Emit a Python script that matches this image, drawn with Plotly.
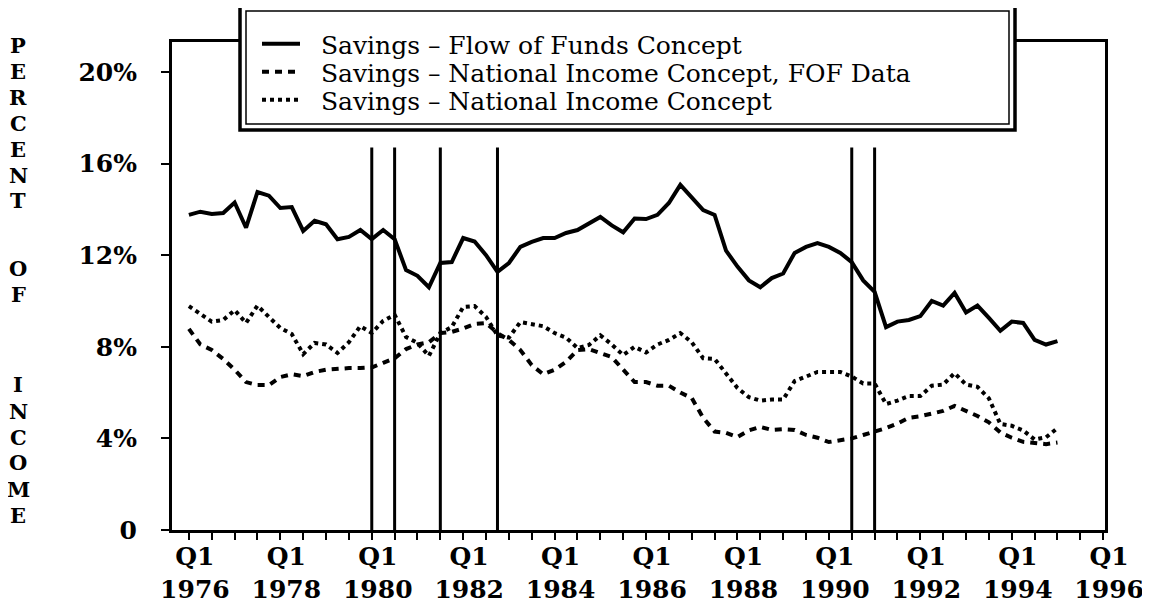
import plotly.graph_objects as go

# quarterly savings rates, % of income, 1976 Q1 .. 1995 Q1
flow_of_funds = [13.76, 13.9, 13.8, 13.84, 14.3, 13.2, 14.76, 14.6, 14.06, 14.1,
                 13.06, 13.5, 13.35, 12.7, 12.8, 13.1, 12.7, 13.1, 12.7, 11.35,
                 11.1, 10.6, 11.66, 11.7, 12.75, 12.6, 12.0, 11.27, 11.66, 12.36,
                 12.58, 12.75, 12.75, 12.97, 13.1, 13.4, 13.67, 13.3, 13.0, 13.6,
                 13.58, 13.76, 14.28, 15.07, 14.5, 13.97, 13.76, 12.2, 11.5, 10.9,
                 10.6, 11.0, 11.2, 12.1, 12.36, 12.53, 12.36, 12.1, 11.7, 10.9,
                 10.4, 8.86, 9.1, 9.17, 9.34, 10.0, 9.8, 10.35, 9.5, 9.8,
                 9.26, 8.7, 9.1, 9.04, 8.3, 8.1, 8.25]
ni_fof_data = [8.78, 8.1, 7.86, 7.47, 7.0, 6.46, 6.33, 6.33, 6.68, 6.8,
               6.72, 6.9, 7.0, 7.05, 7.07, 7.07, 7.1, 7.3, 7.5, 7.9,
               8.1, 8.2, 8.6, 8.65, 8.8, 9.0, 9.04, 8.6, 8.3, 7.86,
               7.2, 6.8, 7.0, 7.34, 7.86, 7.9, 7.73, 7.55, 7.0, 6.46,
               6.46, 6.3, 6.3, 6.0, 5.76, 4.9, 4.3, 4.24, 4.06, 4.35,
               4.5, 4.37, 4.4, 4.37, 4.15, 4.03, 3.84, 3.93, 4.0, 4.15,
               4.3, 4.45, 4.65, 4.9, 4.97, 5.07, 5.2, 5.42, 5.22, 4.98,
               4.7, 4.26, 4.03, 3.85, 3.8, 3.75, 3.82]
ni_concept = [9.78, 9.45, 9.1, 9.17, 9.6, 9.04, 9.8, 9.3, 8.82, 8.56,
              7.68, 8.17, 8.1, 7.73, 8.2, 8.9, 8.6, 9.13, 9.4, 8.43,
              8.17, 7.6, 8.6, 8.86, 9.74, 9.78, 9.3, 8.5, 8.4, 9.08,
              9.0, 8.9, 8.6, 8.4, 7.95, 8.08, 8.5, 8.1, 7.64, 8.0,
              7.75, 8.1, 8.3, 8.6, 8.2, 7.5, 7.47, 6.8, 6.2, 5.8,
              5.65, 5.7, 5.7, 6.5, 6.7, 6.9, 6.9, 6.9, 6.7, 6.4,
              6.4, 5.5, 5.65, 5.85, 5.85, 6.3, 6.35, 6.85, 6.35, 6.25,
              5.75, 4.63, 4.55, 4.35, 3.95, 4.05, 4.45]
quarters = [1976 + q / 4 for q in range(len(flow_of_funds))]

# recession start / end quarters
recessions = [1980.0, 1980.5, 1981.5, 1982.75, 1990.5, 1991.0]
recession_top = 16.7

year_ticks = list(range(1976, 1997, 2))
year_text = ["Q1<br>%d" % y for y in year_ticks]
pct_ticks = [0, 4, 8, 12, 16, 20]
pct_text = ["0", "4%", "8%", "12%", "16%", "20%"]

title_letters = list("PERCENT") + list("OF") + list("INCOME")
title_rows = [45, 71, 97, 123, 149, 175, 201, 268, 294, 385, 411, 437, 463, 489, 515]

serif = "DejaVu Serif"
W, H = 1150, 605
OFF = 8  # page body margin of the html page
# plot area in page pixels
PL, PR, PT, PB = 172, 1105, 42, 530
pw, ph = PR - PL, PB - PT


def px(x):
    return (x - PL) / pw


def py(y):
    return (PB - y) / ph


fig = go.Figure()
fig.add_trace(go.Scatter(x=quarters, y=flow_of_funds, mode="lines",
                         name="  Savings \u2013 Flow of Funds Concept",
                         line=dict(color="black", width=4), legend="legend"))
fig.add_trace(go.Scatter(x=quarters, y=ni_fof_data, mode="lines",
                         name="  Savings \u2013 National Income Concept, FOF Data",
                         line=dict(color="black", width=4, dash="7px,6px"),
                         legend="legend2"))
fig.add_trace(go.Scatter(x=quarters, y=ni_concept, mode="lines",
                         name="  Savings \u2013 National Income Concept",
                         line=dict(color="black", width=4, dash="4px,4px"),
                         legend="legend3"))

for r in recessions:
    fig.add_shape(type="line", xref="x", yref="y", x0=r, x1=r, y0=0, y1=recession_top,
                  line=dict(color="black", width=3))

# legend frame (double border)
fig.add_shape(type="rect", xref="paper", yref="paper", x0=px(240), x1=px(1015),
              y0=py(130), y1=py(5), fillcolor="white", line=dict(color="black", width=3.5))
fig.add_shape(type="rect", xref="paper", yref="paper", x0=px(246), x1=px(1009),
              y0=py(124), y1=py(11), fillcolor="rgba(0,0,0,0)", line=dict(color="black", width=1.5))

for ch, yy in zip(title_letters, title_rows):
    fig.add_annotation(text=ch, xref="paper", yref="paper", x=px(18), y=py(yy),
                       xanchor="center", yanchor="middle", showarrow=False,
                       font=dict(family=serif, size=21, color="black", weight="bold"))

leg = dict(x=px(257), xanchor="left", yanchor="middle", bgcolor="rgba(0,0,0,0)",
           borderwidth=0, itemwidth=38,
           font=dict(family=serif, size=25, color="black"))

tickfont = dict(family=serif, size=25, color="black", weight="bold")
fig.update_layout(
    width=W, height=H,
    margin=dict(l=PL - OFF, r=W - PR + OFF, t=PT - OFF, b=H - PB + OFF, autoexpand=False),
    font=dict(family=serif, color="black"),
    paper_bgcolor="white", plot_bgcolor="white",
    showlegend=True,
    legend=dict(leg, y=py(44)),
    legend2=dict(leg, y=py(72)),
    legend3=dict(leg, y=py(100)),
    xaxis=dict(range=[1975.63, 1996.04], tickmode="array", tickvals=year_ticks,
               ticktext=year_text, ticks="outside", ticklen=7, tickwidth=2,
               tickcolor="black", showline=True, linecolor="black", linewidth=3,
               mirror=True, showgrid=False, zeroline=False, tickfont=tickfont,
               ticklabelshift=6, ticklabelstandoff=-5, automargin=False,
               minor=dict(tickmode="linear", tick0=1976, dtick=0.5, ticks="outside",
                          ticklen=7, tickwidth=2, tickcolor="black", showgrid=False)),
    yaxis=dict(range=[0, 21.31], tickmode="array", tickvals=pct_ticks, ticktext=pct_text,
               ticks="outside", ticklen=8, tickwidth=2, tickcolor="black",
               showline=True, linecolor="black", linewidth=3, mirror=True,
               showgrid=False, zeroline=False, tickfont=tickfont, ticklabelstandoff=19,
               automargin=False),
)

fig.write_html("out.html")
